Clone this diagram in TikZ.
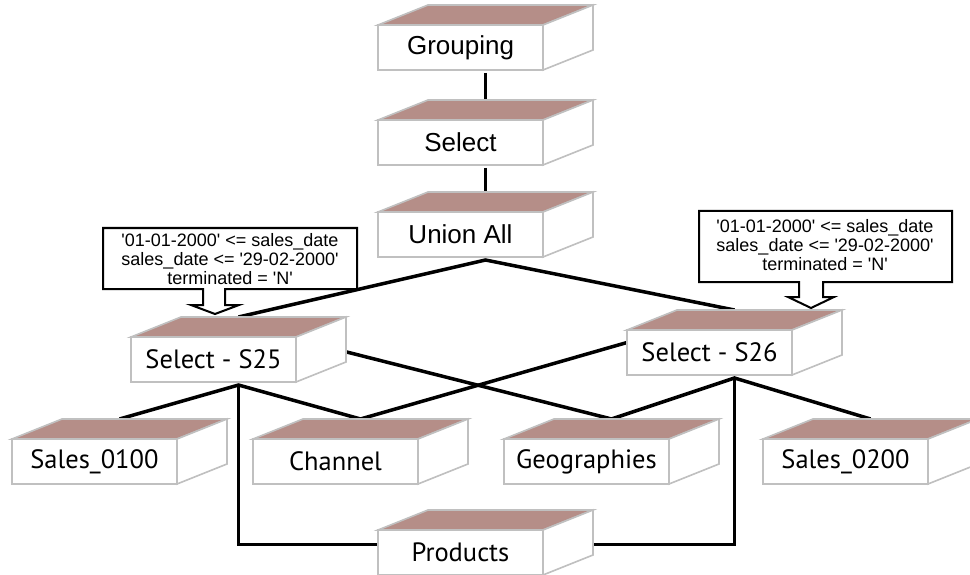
\documentclass[tikz,border=0pt]{standalone}
\usepackage{fontspec}
\setmainfont{Liberation Sans}
\newfontfamily\boxfont{PT Sans}
\newfontfamily\opfont{Liberation Sans}
\pgfdeclarelayer{bg}
\pgfsetlayers{bg,main}
\definecolor{topbrown}{RGB}{181,142,136}
\definecolor{edgegrey}{RGB}{192,192,192}
\newcommand\sq{\textquotesingle}
\tikzset{
  face/.style={draw=edgegrey, line width=1.6pt, line join=miter},
  dbox/.style={face, fill=white, minimum width=165pt, minimum height=45pt,
    inner sep=0pt, outer sep=0pt, anchor=north west,
    font=\boxfont\fontsize{26.5}{30}\selectfont},
  opbox/.style={dbox, font=\opfont\fontsize{26}{30}\selectfont},
  link/.style={line width=3.5pt, draw=black},
  callout/.style={draw=black, line width=2pt, fill=white, line join=miter},
  calltext/.style={align=center, inner sep=0pt, font=\fontsize{18}{19}\selectfont},
}
% a 3-D block: front face node plus its top and right faces
\newcommand\dbbox[5][dbox]{%
  \node[#1] (#2) at (#3,#4) {#5};
  \filldraw[face, fill=topbrown] (#2.north west) -- ++(50,-20) -- ++(165,0)
    -- (#2.north east) -- cycle;
  \filldraw[face, fill=white] (#2.north east) -- ++(50,-20) -- ++(0,45)
    -- (#2.south east) -- cycle;
}
\newcommand\tp[1]{([xshift=25pt,yshift=20pt]#1.north)}
\newcommand\bt[1]{([xshift=25pt,yshift=-3pt]#1.south)}
\begin{document}
\begin{tikzpicture}[x=1pt,y=-1pt]
\useasboundingbox (0,0) rectangle (970,575);
\clip (0,0) rectangle (970,575);

\dbbox[opbox]{grp}{378}{25}{Grouping}
\dbbox[opbox]{sel}{378}{120}{Select}
\dbbox[opbox]{uni}{378}{212}{Union All}
\dbbox{s25}{131}{337}{Select - S25}
\dbbox{s26}{627}{330}{Select - S26}
\dbbox{s01}{12}{439}{Sales\_0100}
\dbbox{chn}{253}{439}{Channel}
\dbbox{geo}{504}{439}{Geographies}
\dbbox{s02}{763}{439}{Sales\_0200}
\dbbox{prd}{378}{530}{Products}

\begin{pgfonlayer}{bg}
  \draw[link] \bt{grp} -- \tp{sel};
  \draw[link] \bt{sel} -- \tp{uni};
  \draw[link] \tp{s25} -- \bt{uni} -- \tp{s26};
  \draw[link] \tp{s01} -- \bt{s25} -- \tp{chn};
  \draw[link] \bt{s25} |- ([yshift=8pt]prd.west);
  \draw[link] ([xshift=25pt,yshift=14pt]s25.east) -- \tp{geo};
  \draw[link] ([yshift=10pt]s26.west) -- \tp{chn};
  \draw[link] \tp{geo} -- \bt{s26} -- \tp{s02};
  \draw[link] \bt{s26} |- ([yshift=8pt]prd.east);
\end{pgfonlayer}

% filter conditions pushed down to each branch
\draw[callout] (103,228) -- (357,228) -- (357,289) -- (225,289) -- (225,305)
  -- (239,305) -- (215,314) -- (191,305) -- (203,305) -- (203,289)
  -- (103,289) -- cycle;
\node[calltext] (c25) at (230,259)
  {\sq01-01-2000\sq{} <= sales\_date\\sales\_date <= \sq29-02-2000\sq\\terminated = \sq N\sq};

\draw[callout] (699,211) -- (952,211) -- (952,282) -- (823,282) -- (823,297)
  -- (834,297) -- (811,308) -- (788,297) -- (799,297) -- (799,282)
  -- (699,282) -- cycle;
\node[calltext] (c26) at (825,245)
  {\sq01-01-2000\sq{} <= sales\_date\\sales\_date <= \sq29-02-2000\sq\\terminated = \sq N\sq};
\end{tikzpicture}
\end{document}
